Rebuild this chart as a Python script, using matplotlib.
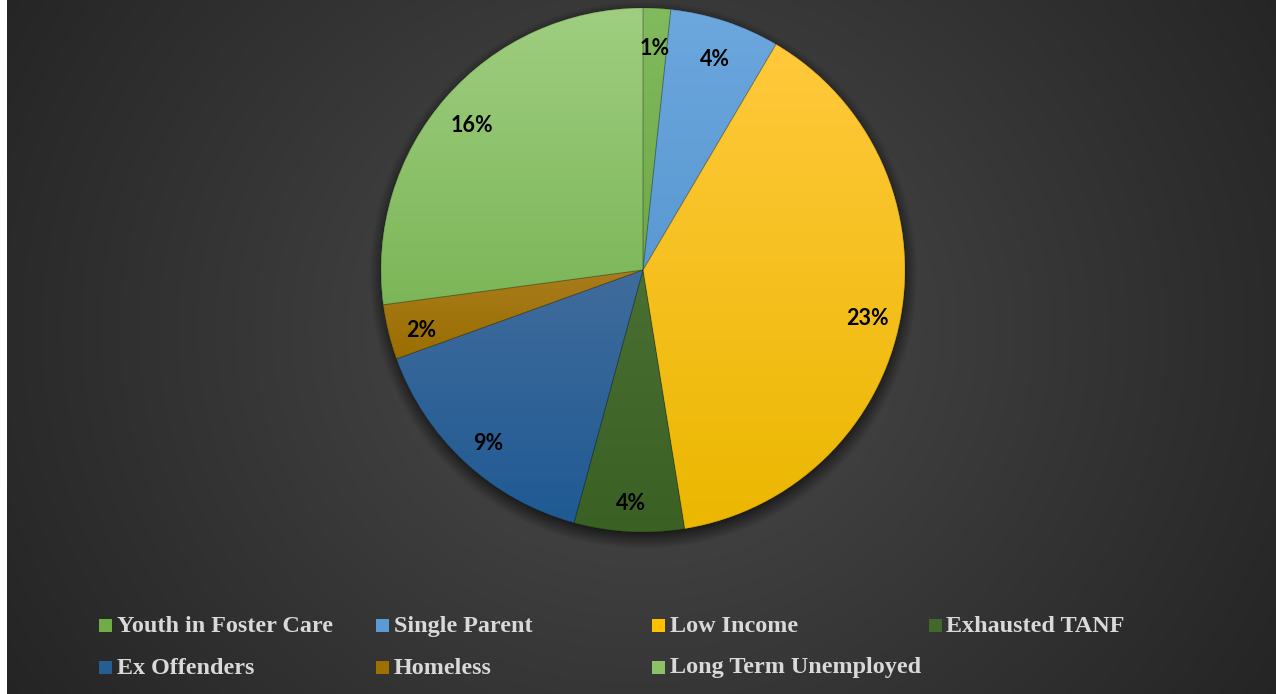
import numpy as np
import matplotlib
matplotlib.use("Agg")
import matplotlib.pyplot as plt
from matplotlib.colors import to_rgb
from matplotlib.patches import Rectangle, Wedge

categories = ["Youth in Foster Care", "Single Parent", "Low Income", "Exhausted TANF",
              "Ex Offenders", "Homeless", "Long Term Unemployed"]
values = [1, 4, 23, 4, 9, 2, 16]
pct_labels = [f"{v}%" for v in values]

legend_colors = ["#70ad47", "#5b9bd5", "#ffc000", "#43682b", "#255e91", "#9e7000", "#8cc168"]
top_colors = ["#82bb5e", "#6ca7dd", "#ffc93c", "#4a6f33", "#406c9c", "#a87c1c", "#9fce80"]
bot_colors = ["#6ea845", "#5a99d3", "#ebb700", "#3a6024", "#1f5a93", "#9a6e00", "#7cb658"]

W, H = 1276, 694
fig = plt.figure(figsize=(W / 100, H / 100), dpi=100)
fig.patch.set_facecolor("white")
ax = fig.add_axes([0, 0, 1, 1])

# pie geometry (screen coordinates, y measured from top)
cx, cy_screen, R = 643, 270, 262
cy = H - cy_screen

wedges, texts = ax.pie(values, labels=pct_labels, startangle=90, counterclock=False,
                       center=(cx, cy), radius=R, labeldistance=0.87,
                       wedgeprops=dict(linewidth=0),
                       textprops=dict(family="Lato", fontweight="bold", fontsize=15.5, color="black"))
ax.set_xlim(0, W)
ax.set_ylim(0, H)
ax.set_aspect("equal")
ax.axis("off")

# background radial gradient
x0 = 7
yy, xx = np.mgrid[0:H, x0:W]
d = np.sqrt((xx - 643) ** 2 + ((yy - 330) * 1.1) ** 2)
t = np.clip(d / 760, 0, 1) ** 0.9
cin = np.array(to_rgb("#4e4e4e"))
cout = np.array(to_rgb("#242424"))
bg = cin[None, None, :] * (1 - t[..., None]) + cout[None, None, :] * t[..., None]
ax.imshow(bg, extent=(x0, W, 0, H), origin="upper", zorder=-10, aspect="auto", interpolation="bilinear")

# soft shadow under pie
ds = np.sqrt((xx - cx) ** 2 + (yy - (cy_screen + 5)) ** 2)
a = np.clip((R + 12 - ds) / 18, 0, 1) * 0.6
sh = np.zeros((H, W - x0, 4))
sh[..., 3] = a
ax.imshow(sh, extent=(x0, W, 0, H), origin="upper", zorder=-5, aspect="auto", interpolation="bilinear")

# gradient fills clipped to each wedge
for w, ct, cb in zip(wedges, top_colors, bot_colors):
    w.set_facecolor(cb)
    verts = w.get_path().vertices
    xmin, xmax = verts[:, 0].min(), verts[:, 0].max()
    ymin, ymax = verts[:, 1].min(), verts[:, 1].max()
    g = np.linspace(0, 1, 256)[:, None, None]
    img = np.array(to_rgb(ct))[None, None, :] * (1 - g) + np.array(to_rgb(cb))[None, None, :] * g
    im = ax.imshow(img, extent=(xmin, xmax, ymin, ymax), origin="upper", aspect="auto",
                   zorder=1.5, interpolation="bilinear")
    im.set_clip_path(w)
    ax.add_patch(Wedge(w.center, w.r, w.theta1, w.theta2,
                       facecolor="none", edgecolor=(0, 0, 0, 0.18),
                       linewidth=0.7, zorder=2))

for tx in texts:
    x, y = tx.get_position()
    tx.set_position((x, y - 6))
    tx.set_ha("center")
    tx.set_va("center")
    tx.set_zorder(3)

ax.set_xlim(0, W)
ax.set_ylim(0, H)

# legend (Excel-style equal-width grid)
for i, (name, col) in enumerate(zip(categories, legend_colors)):
    row, c = divmod(i, 4)
    lx = 99 + c * 276.5
    base = 632 + row * 41.5
    ax.add_patch(Rectangle((lx, H - base), 13, 13, facecolor=col, edgecolor="none", zorder=3))
    ax.text(lx + 18, H - base, name, family="Liberation Serif", fontweight="bold",
            fontsize=17.4, color="#d9d9d9", ha="left", va="baseline", zorder=3)

fig.savefig("out.png", dpi=100, facecolor=fig.get_facecolor())
